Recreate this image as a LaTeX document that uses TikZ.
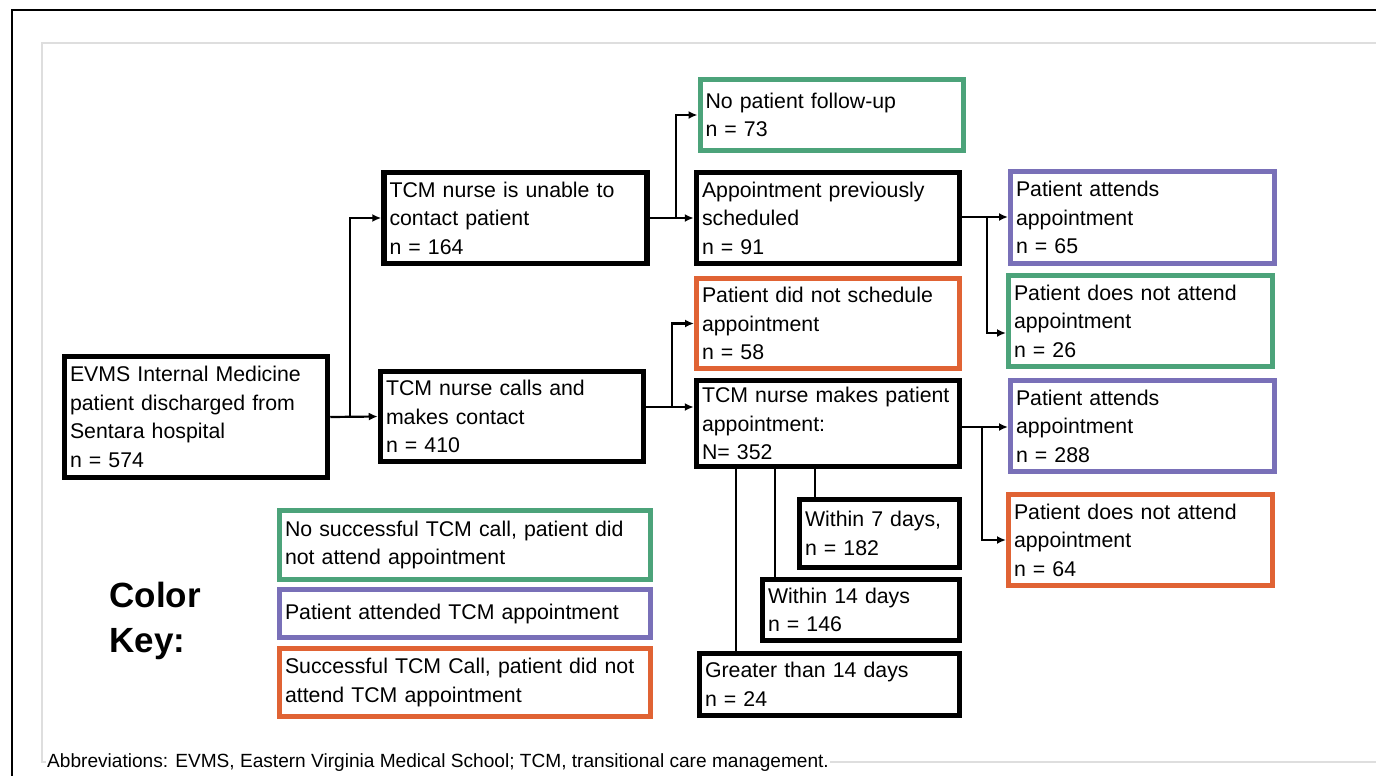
\documentclass[tikz,border=0pt]{standalone}
\usepackage{fontspec}
\setmainfont{Liberation Sans}
\usetikzlibrary{positioning,arrows.meta,calc}

\definecolor{keygreen}{RGB}{76,163,122}
\definecolor{keypurple}{RGB}{121,112,184}
\definecolor{keyorange}{RGB}{224,99,52}
\definecolor{framegray}{RGB}{222,222,222}

\newcommand{\boxfont}{\fontsize{21.3}{28.5}\selectfont}

\tikzset{
  box/.style={draw=black, line width=5.5pt, rectangle, align=left,
    inner xsep=5.5pt, inner ysep=2pt, font=\boxfont, text width=252pt},
  gbox/.style={box, draw=keygreen, line width=5pt},
  pbox/.style={box, draw=keypurple, line width=5pt},
  obox/.style={box, draw=keyorange, line width=5pt},
  arr/.style={line width=2.2pt, -{Latex[length=9pt,width=8pt]}},
  link/.style={line width=2.2pt}
}

\begin{document}
\begin{tikzpicture}[x=1pt, y=-1pt]
  \useasboundingbox (0,0) rectangle (1376,776);

  % page frame
  \draw[line width=2pt] (1376,10) -- (12,10) -- (12,776);
  \draw[framegray, line width=1.5pt] (1376,43) -- (42,43) -- (42,762) -- (1376,762);

  \node[box, minimum height=121pt] (start) at (196,417)
    {EVMS Internal Medicine\\patient discharged from\\Sentara hospital\\n = 574};
  \node[box, minimum height=91pt] (unable) at (515.5,218)
    {TCM nurse is unable to\\contact patient\\n = 164};
  \node[box, minimum height=90pt] (calls) at (512,416.5)
    {TCM nurse calls and\\makes contact\\n = 410};

  \node[gbox, minimum height=71pt] (nofollow) at (831.5,115)
    {No patient follow-up\\n = 73};
  \node[box, minimum height=91pt] (apptprev) at (828,218)
    {Appointment previously\\scheduled\\n = 91};
  \node[obox, minimum height=90pt] (nosched) at (828,323.5)
    {Patient did not schedule\\appointment\\n = 58};
  \node[box, minimum height=86pt] (makes) at (828,423.5)
    {TCM nurse makes patient\\appointment:\\N= 352};

  \node[box, minimum height=68pt, text width=149pt] (w7) at (879.5,533.5)
    {Within 7 days,\\n = 182};
  \node[box, minimum height=61pt, text width=186pt] (w14) at (861,610)
    {Within 14 days\\n = 146};
  \node[box, minimum height=62pt, text width=249pt] (g14) at (829.5,684.5)
    {Greater than 14 days\\n = 24};

  \node[pbox, minimum height=92pt, text width=253pt] (att65) at (1142.5,217.5)
    {Patient attends\\appointment\\n = 65};
  \node[gbox, minimum height=91pt, text width=253pt] (not26) at (1140.5,321)
    {Patient does not attend\\appointment\\n = 26};
  \node[pbox, minimum height=91pt, text width=253pt] (att288) at (1142.5,426)
    {Patient attends\\appointment\\n = 288};
  \node[obox, minimum height=91pt, text width=253pt] (not64) at (1140.5,540)
    {Patient does not attend\\appointment\\n = 64};

  % colour key
  \node[anchor=west, align=left, font=\fontsize{35}{45}\selectfont\bfseries] (keytitle) at (106,621)
    {Color\\Key:};
  \node[gbox, minimum height=69pt, text width=360pt] (keyg) at (465,545)
    {No successful TCM call, patient did\\not attend appointment};
  \node[pbox, minimum height=48pt, text width=360pt] (keyp) at (465,613.5)
    {Patient attended TCM appointment};
  \node[obox, minimum height=68pt, text width=360pt] (keyo) at (465,682.5)
    {Successful TCM Call, patient did not\\attend TCM appointment};

  % connectors
  \coordinate (j1) at (350,417);
  \draw[arr] (start.east) -- (calls.west);
  \draw[arr] (j1) |- (unable.west);

  \coordinate (j2) at (676,218);
  \draw[arr] (unable.east) -- (apptprev.west);
  \draw[arr] (j2) |- (nofollow.west);

  \coordinate (j3) at (672,407);
  \draw[arr] (calls.east |- j3) -- (j3 -| makes.west);
  \draw[arr] (j3) |- (nosched.west);

  \coordinate (j4) at (987,217);
  \draw[arr] (apptprev.east |- j4) -- (j4 -| att65.west);
  \draw[arr] (j4) |- ($(not26.west)+(0,12)$);

  \coordinate (j5) at (982,427);
  \draw[arr] (makes.east |- j5) -- (j5 -| att288.west);
  \draw[arr] (j5) |- (not64.west);

  \coordinate (d7) at (815,0);
  \coordinate (d14) at (775,0);
  \coordinate (dg) at (736,0);
  \draw[link] (makes.south -| d7) -- (w7.north -| d7);
  \draw[link] (makes.south -| d14) -- (w14.north -| d14);
  \draw[link] (makes.south -| dg) -- (g14.north -| dg);

  \node[anchor=base west, fill=white, inner xsep=1pt, inner ysep=3pt, font=\fontsize{19.1}{21}\selectfont] (abbrev) at (46,767)
    {Abbreviations: EVMS, Eastern Virginia Medical School; TCM, transitional care management.};
\end{tikzpicture}
\end{document}
